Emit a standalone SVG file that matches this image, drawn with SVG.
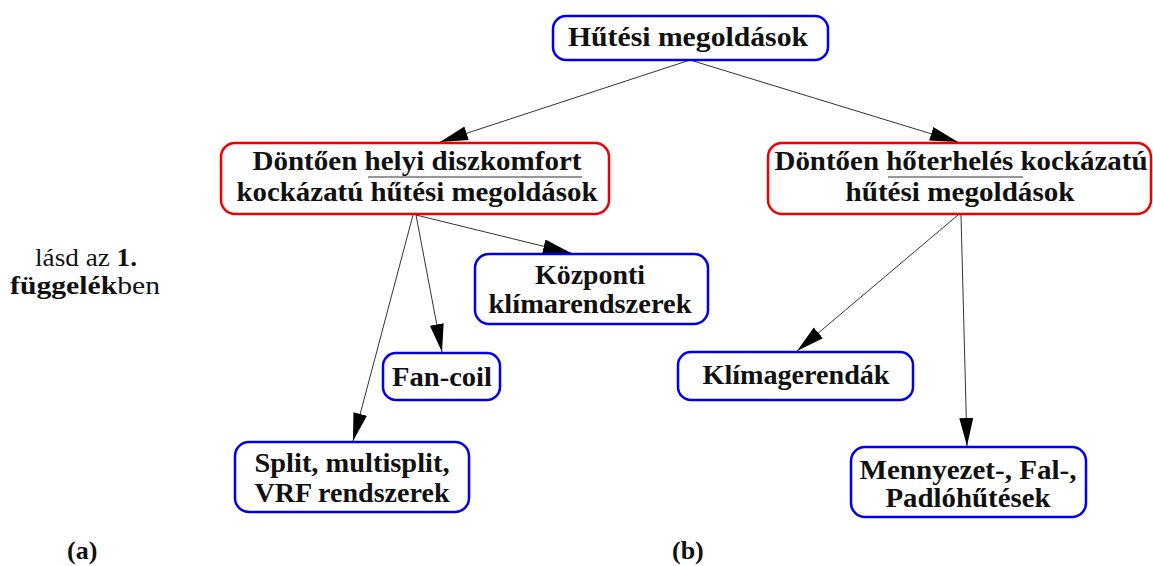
<svg xmlns="http://www.w3.org/2000/svg" width="1153" height="566" viewBox="0 0 1153 566">
<style>
.box{fill:#fff;stroke-width:2.5}
.blue{stroke:#0000ee}
.red{stroke:#ee0000}
.c{stroke:#333;stroke-width:1;fill:none;marker-end:url(#ah)}
.ul{stroke:#333;stroke-width:1.2}
</style>
<defs>
<marker id="ah" markerUnits="userSpaceOnUse" markerWidth="30" markerHeight="16" refX="28" refY="7" orient="auto">
<path d="M0,0 L28,7 L0,14 Z" fill="#000"/>
</marker>
</defs>
<rect width="1153" height="566" fill="#fff"/>
<g id="connectors">
<line class="c" x1="690" y1="60" x2="440" y2="142"/>
<line class="c" x1="690" y1="60" x2="958" y2="142"/>
<line class="c" x1="413" y1="215" x2="353" y2="441"/>
<line class="c" x1="416" y1="215" x2="442" y2="352"/>
<line class="c" x1="416" y1="215" x2="571" y2="253"/>
<line class="c" x1="958" y1="215" x2="797" y2="351"/>
<line class="c" x1="961" y1="215" x2="967" y2="446"/>
</g>
<g font-family="Liberation Serif" font-weight="bold" font-size="27" fill="#111" text-anchor="middle">
<g id="n-root">
<rect class="box blue" x="553" y="16" width="275" height="44" rx="13"/>
<text x="688" y="46" textLength="240" lengthAdjust="spacingAndGlyphs">Hűtési megoldások</text>
</g>
<g id="n-left">
<rect class="box red" x="221" y="143" width="388" height="71" rx="14"/>
<text x="417" y="170" textLength="329" lengthAdjust="spacingAndGlyphs">Döntően helyi diszkomfort</text>
<text x="417" y="201" textLength="361" lengthAdjust="spacingAndGlyphs">kockázatú hűtési megoldások</text>
<line class="ul" x1="368" y1="177" x2="582" y2="177"/>
</g>
<g id="n-right">
<rect class="box red" x="768" y="143" width="383" height="71" rx="14"/>
<text x="961" y="170" textLength="373" lengthAdjust="spacingAndGlyphs">Döntően hőterhelés kockázatú</text>
<text x="960" y="201" textLength="229" lengthAdjust="spacingAndGlyphs">hűtési megoldások</text>
<line class="ul" x1="888" y1="177" x2="1023" y2="177"/>
</g>
<g id="n-kozponti">
<rect class="box blue" x="475" y="254" width="233" height="70" rx="14"/>
<text x="590" y="284" textLength="110" lengthAdjust="spacingAndGlyphs">Központi</text>
<text x="590" y="313" textLength="203" lengthAdjust="spacingAndGlyphs">klímarendszerek</text>
</g>
<g id="n-fancoil">
<rect class="box blue" x="383" y="353" width="117" height="47" rx="13"/>
<text x="442" y="386" textLength="100" lengthAdjust="spacingAndGlyphs">Fan-coil</text>
</g>
<g id="n-split">
<rect class="box blue" x="235" y="442" width="234" height="70" rx="14"/>
<text x="352" y="472" textLength="195" lengthAdjust="spacingAndGlyphs">Split, multisplit,</text>
<text x="352" y="502" textLength="195" lengthAdjust="spacingAndGlyphs">VRF rendszerek</text>
</g>
<g id="n-klima">
<rect class="box blue" x="678" y="352" width="235" height="48" rx="13"/>
<text x="796" y="384" textLength="187" lengthAdjust="spacingAndGlyphs">Klímagerendák</text>
</g>
<g id="n-mennyezet">
<rect class="box blue" x="851" y="447" width="235" height="70" rx="14"/>
<text x="968" y="479" textLength="217" lengthAdjust="spacingAndGlyphs">Mennyezet-, Fal-,</text>
<text x="968" y="507" textLength="165" lengthAdjust="spacingAndGlyphs">Padlóhűtések</text>
</g>
</g>
<g id="note" font-family="Liberation Serif" font-size="25" fill="#111">
<text x="35" y="266" textLength="102" lengthAdjust="spacingAndGlyphs">lásd az <tspan font-weight="bold">1.</tspan></text>
<text x="10" y="294" textLength="150" lengthAdjust="spacingAndGlyphs"><tspan font-weight="bold">függelék</tspan>ben</text>
</g>
<g id="labels" font-family="Liberation Serif" font-size="26" font-weight="bold" fill="#111">
<text x="67" y="559">(a)</text>
<text x="672" y="559">(b)</text>
</g>
</svg>
